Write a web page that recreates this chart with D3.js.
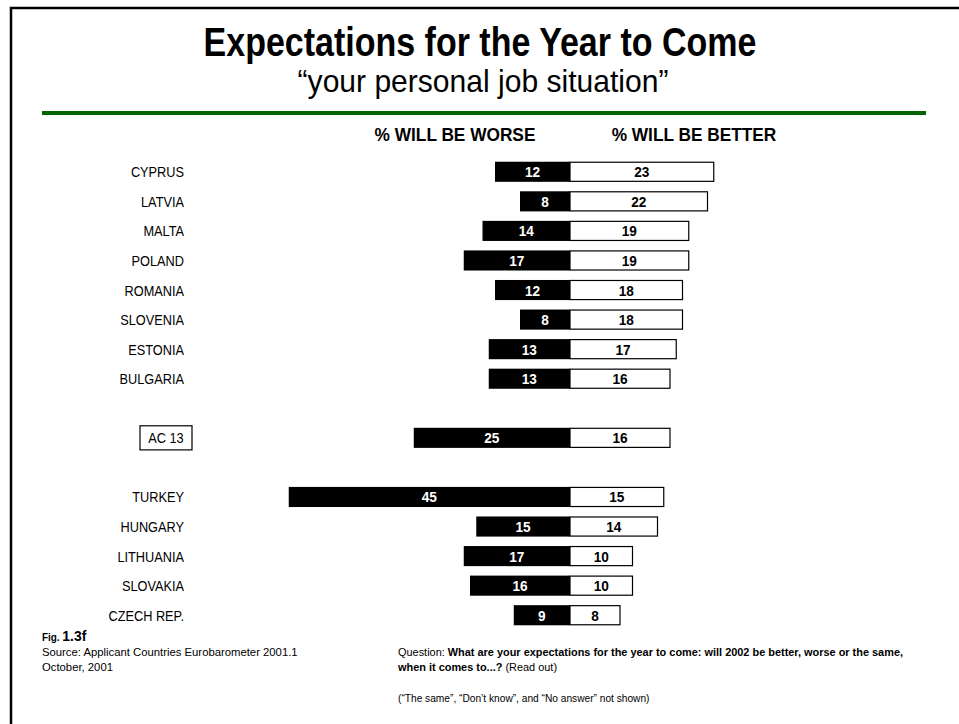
<!DOCTYPE html>
<html>
<head>
<meta charset="utf-8">
<script src="https://cdn.jsdelivr.net/npm/d3@7/dist/d3.min.js"></script>
<style>
  html, body { margin: 0; padding: 0; background: #fff; }
  svg { display: block; }
</style>
</head>
<body>
<svg id="chart" width="959" height="724"></svg>
<script>
// Survey rows, top to bottom; empty strings are spacer rows
const countries = ["CYPRUS", "LATVIA", "MALTA", "POLAND", "ROMANIA", "SLOVENIA", "ESTONIA", "BULGARIA",
  "", "AC 13", "", "TURKEY", "HUNGARY", "LITHUANIA", "SLOVAKIA", "CZECH REP."];
const worse  = [12, 8, 14, 17, 12, 8, 13, 13, null, 25, null, 45, 15, 17, 16, 9];
const better = [23, 22, 19, 19, 18, 18, 17, 16, null, 16, null, 15, 14, 10, 10, 8];
const seriesLabels = ["% WILL BE WORSE", "% WILL BE BETTER"];
const highlighted = "AC 13";

const svg = d3.select("#chart");
const font = '"Liberation Sans Narrow", "Arial Narrow", "Liberation Sans", Arial, sans-serif';

// Text placed at (x, y) and horizontally condensed by sx, giving a narrow face
function label(parent, x, y, sx) {
  return parent.append("text")
    .attr("transform", `translate(${x},${y}) scale(${sx},1)`)
    .attr("font-family", font);
}

// Page frame (top and left rules)
svg.append("path")
  .attr("d", "M11,724 V8 H959")
  .attr("fill", "none").attr("stroke", "#000").attr("stroke-width", 2.5);

// Titles
label(svg, 480, 56, 0.85).attr("text-anchor", "middle")
  .attr("font-weight", "bold").attr("font-size", 40)
  .text("Expectations for the Year to Come");
label(svg, 483, 92, 0.97).attr("text-anchor", "middle")
  .attr("font-size", 31)
  .text("\u201Cyour personal job situation\u201D");

svg.append("rect").attr("x", 42).attr("y", 111).attr("width", 884).attr("height", 4)
  .attr("fill", "#006400");

// Scales
const x = d3.scaleLinear().domain([0, 1]).range([570, 576.25]);
const y = d3.scaleBand().domain(d3.range(countries.length)).range([157, 630]).paddingInner(0.32).paddingOuter(0.16);

// Column headers
label(svg, 455, 141, 0.96).attr("text-anchor", "middle")
  .attr("font-weight", "bold").attr("font-size", 18)
  .text(seriesLabels[0]);
label(svg, 694, 141, 0.96).attr("text-anchor", "middle")
  .attr("font-weight", "bold").attr("font-size", 18)
  .text(seriesLabels[1]);

const rows = countries.map((c, i) => ({ c, i, w: worse[i], b: better[i] })).filter(d => d.c !== "");
const g = svg.append("g");

// Worse bars (black, extending left of zero)
g.selectAll("rect.worse").data(rows).join("rect")
  .attr("class", "worse")
  .attr("x", d => 2 * x(0) - x(d.w)).attr("y", d => y(d.i))
  .attr("width", d => x(d.w) - x(0)).attr("height", y.bandwidth())
  .attr("fill", "#000");

// Better bars (white with black outline, extending right of zero)
g.selectAll("rect.better").data(rows).join("rect")
  .attr("class", "better")
  .attr("x", x(0)).attr("y", d => y(d.i) + 0.5)
  .attr("width", d => x(d.b) - x(0)).attr("height", y.bandwidth() - 1)
  .attr("fill", "#fff").attr("stroke", "#000").attr("stroke-width", 1.2);

const midY = d => y(d.i) + y.bandwidth() / 2 + 5.5;

// Value labels
g.selectAll("text.wv").data(rows).join("text")
  .attr("class", "wv")
  .attr("transform", d => `translate(${x(0) - (x(d.w) - x(0)) / 2},${midY(d)}) scale(0.88,1)`)
  .attr("text-anchor", "middle").attr("fill", "#fff")
  .attr("font-family", font).attr("font-weight", "bold").attr("font-size", 15.5)
  .text(d => d.w);
g.selectAll("text.bv").data(rows).join("text")
  .attr("class", "bv")
  .attr("transform", d => `translate(${(x(0) + x(d.b)) / 2},${midY(d)}) scale(0.88,1)`)
  .attr("text-anchor", "middle").attr("fill", "#000")
  .attr("font-family", font).attr("font-weight", "bold").attr("font-size", 15.5)
  .text(d => d.b);

// Country labels
g.selectAll("text.cl").data(rows).join("text")
  .attr("class", "cl")
  .attr("transform", d => `translate(${d.c === highlighted ? 166 : 184},${midY(d)}) scale(0.88,1)`)
  .attr("text-anchor", d => d.c === highlighted ? "middle" : "end")
  .attr("font-family", font).attr("font-size", 14.5)
  .text(d => d.c);

// Box around the aggregate label
rows.filter(d => d.c === highlighted).forEach(d => {
  g.append("rect").attr("x", 140).attr("y", y(d.i) - 2).attr("width", 52).attr("height", y.bandwidth() + 4)
    .attr("fill", "none").attr("stroke", "#000").attr("stroke-width", 1.2);
});

// Footer notes
const foot = svg.append("g").attr("font-size", 11.3);
const fig = label(foot, 42, 641, 0.9);
fig.append("tspan").attr("font-weight", "bold").attr("font-size", 11).text("Fig. ");
fig.append("tspan").attr("font-weight", "bold").attr("font-size", 15.5).text("1.3f");
label(foot, 42, 656, 1).text("Source: Applicant Countries Eurobarometer 2001.1");
label(foot, 42, 671, 1).text("October, 2001");

const q1 = label(foot, 398, 656, 0.967);
q1.append("tspan").text("Question:  ");
q1.append("tspan").attr("font-weight", "bold").text("What are your expectations for the year to come: will 2002 be better, worse or the same,");
const q2 = label(foot, 398, 671, 0.967);
q2.append("tspan").attr("font-weight", "bold").text("when it comes to...? ");
q2.append("tspan").text("(Read out)");
label(foot, 398, 702, 0.97).attr("font-size", 10.5)
  .text("(\u201CThe same\u201D, \u201CDon\u2019t know\u201D, and \u201CNo answer\u201D not shown)");
</script>
</body>
</html>
